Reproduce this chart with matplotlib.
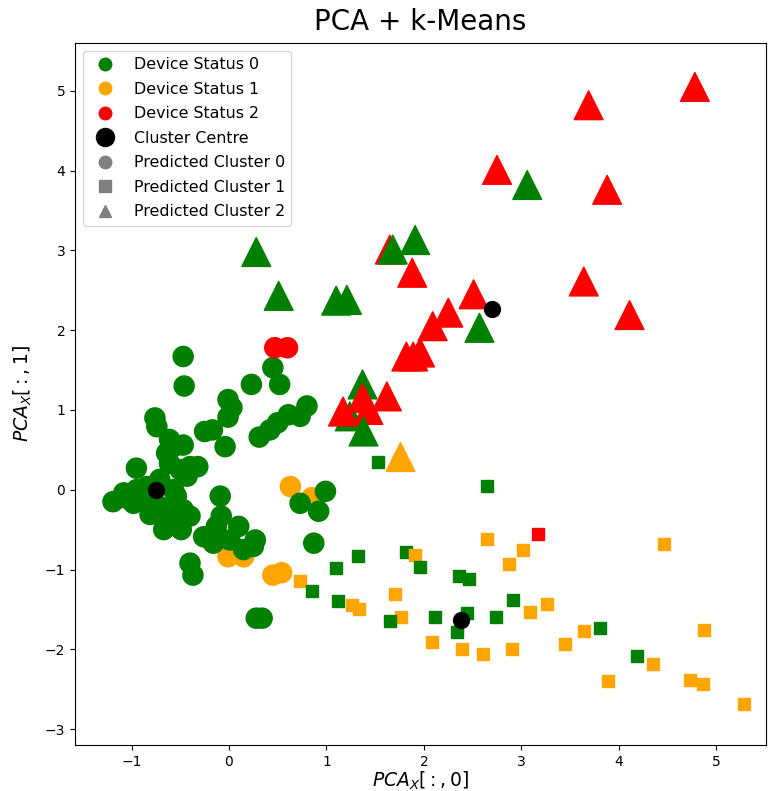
import matplotlib
matplotlib.use("Agg")
import matplotlib.pyplot as plt
from matplotlib.lines import Line2D

# colours for the device status labels
status_colors = ['green', 'orange', 'red']

# predicted cluster 0 (circles)
c0_x = [0.63, 0.85, -0.01, 0.15, 0.45, 0.54,
        -1.19, -1.08, -0.98, -0.95, -0.81, -0.71, -0.61, -0.54, -0.47, -0.40,
        -0.67, -0.49, -0.64, -0.57, -0.47, -0.61, -0.50, -0.40, -0.32, -0.71,
        -0.84, -0.95, -1.07, -0.78, -0.57, -0.43, -0.61,
        -0.47, -0.46, 0.45, 0.52, 0.23, -0.01, 0.03, -0.01, -0.76, -0.74,
        -0.25, -0.17, -0.04, 0.31, 0.42, 0.50, 0.61, 0.73, 0.80,
        -0.09, -0.08, -0.13, -0.26, 0.10, 0.01, 0.15, 0.27, 0.25, -0.16,
        -0.40, -0.37, 0.28, 0.34, 0.73, 0.99, 0.92, 0.87,
        0.47, 0.60]
c0_y = [0.04, -0.10, -0.84, -0.84, -1.07, -1.04,
        -0.15, -0.04, -0.17, 0.27, -0.31, -0.21, -0.33, -0.08, -0.25, -0.33,
        -0.50, -0.50, 0.46, 0.54, 0.56, 0.33, 0.25, 0.29, 0.29, 0.13,
        0.04, 0.00, -0.10, -0.13, 0.00, 0.17, 0.63,
        1.67, 1.30, 1.53, 1.32, 1.32, 1.13, 1.03, 0.91, 0.90, 0.79,
        0.73, 0.75, 0.54, 0.66, 0.75, 0.84, 0.94, 0.92, 1.05,
        -0.08, -0.33, -0.46, -0.59, -0.46, -0.63, -0.75, -0.63, -0.71, -0.67,
        -0.92, -1.07, -1.61, -1.61, -0.17, -0.02, -0.27, -0.67,
        1.78, 1.78]
c0_status = [1, 1, 1, 1, 1, 1,
             0, 0, 0, 0, 0, 0, 0, 0, 0, 0,
             0, 0, 0, 0, 0, 0, 0, 0, 0, 0,
             0, 0, 0, 0, 0, 0, 0,
             0, 0, 0, 0, 0, 0, 0, 0, 0, 0,
             0, 0, 0, 0, 0, 0, 0, 0, 0,
             0, 0, 0, 0, 0, 0, 0, 0, 0, 0,
             0, 0, 0, 0, 0, 0, 0, 0,
             2, 2]

# predicted cluster 1 (squares)
c1_x = [1.53, 2.65, 3.17, 2.65, 3.02, 2.87, 4.46, 1.82, 1.91, 1.96,
        2.36, 2.46, 1.70, 2.91, 3.26, 3.09, 1.76, 1.65, 2.11, 2.44,
        2.34, 2.74, 3.64, 3.81, 4.87, 2.08, 3.45, 2.39, 2.61, 2.90,
        4.19, 4.35, 3.89, 4.73, 4.86, 5.28,
        1.10, 1.32, 0.73, 0.85, 1.12, 1.26, 1.33]
c1_y = [0.35, 0.05, -0.55, -0.62, -0.76, -0.93, -0.68, -0.78, -0.82, -0.97,
        -1.08, -1.12, -1.31, -1.38, -1.43, -1.53, -1.60, -1.64, -1.59, -1.54,
        -1.78, -1.60, -1.77, -1.73, -1.76, -1.91, -1.93, -2.00, -2.06, -2.00,
        -2.08, -2.18, -2.40, -2.38, -2.43, -2.68,
        -0.98, -0.83, -1.14, -1.27, -1.40, -1.44, -1.49]
c1_status = [0, 0, 2, 1, 1, 1, 1, 0, 1, 0,
             0, 0, 1, 0, 1, 1, 1, 0, 0, 0,
             0, 0, 1, 0, 1, 1, 1, 1, 1, 1,
             0, 1, 1, 1, 1, 1,
             0, 0, 1, 0, 0, 1, 1]

# predicted cluster 2 (triangles)
c2_x = [4.78, 3.69, 2.75, 3.88, 3.64, 4.11, 1.65, 1.88,
        2.51, 2.25, 2.09, 1.82, 1.89, 1.96,
        3.06, 0.28, 0.51, 1.10, 1.21, 1.68, 1.91, 2.57,
        1.37, 1.24, 1.17, 1.37, 1.43, 1.62, 1.38, 1.76]
c2_y = [5.05, 4.82, 4.01, 3.76, 2.61, 2.19, 3.01, 2.72,
        2.45, 2.22, 2.05, 1.67, 1.67, 1.72,
        3.82, 2.98, 2.43, 2.37, 2.38, 3.01, 3.13, 2.03,
        1.32, 0.92, 0.98, 1.15, 1.00, 1.17, 0.73, 0.41]
c2_status = [2, 2, 2, 2, 2, 2, 2, 2,
             2, 2, 2, 2, 2, 2,
             0, 0, 0, 0, 0, 0, 0, 0,
             0, 0, 2, 2, 2, 2, 0, 1]

# k-means cluster centres
centre_x = [-0.75, 2.38, 2.70]
centre_y = [0.00, -1.63, 2.27]

fig = plt.figure(figsize=(7.68, 7.91), dpi=100)
ax = fig.add_axes([75 / 768, 46 / 791, 691 / 768, 702 / 791])

ax.scatter(c0_x, c0_y, c=[status_colors[s] for s in c0_status], marker='o', s=210)
ax.scatter(c1_x, c1_y, c=[status_colors[s] for s in c1_status], marker='s', s=75)
ax.scatter(c2_x, c2_y, c=[status_colors[s] for s in c2_status], marker='^', s=430)
ax.scatter(centre_x, centre_y, c='black', marker='o', s=130)

ax.set_xlim(-1.58, 5.51)
ax.set_ylim(-3.2, 5.6)
ax.set_title('PCA + k-Means', fontsize=20, pad=9)
ax.set_xlabel('$PCA_X[:,0]$', fontsize=13.5, labelpad=1)
ax.set_ylabel('$PCA_X[:,1]$', fontsize=13.5, labelpad=8)

handles = [
    Line2D([], [], marker='o', color='green', linestyle='none', markersize=9, label='Device Status 0'),
    Line2D([], [], marker='o', color='orange', linestyle='none', markersize=9, label='Device Status 1'),
    Line2D([], [], marker='o', color='red', linestyle='none', markersize=9, label='Device Status 2'),
    Line2D([], [], marker='o', color='black', linestyle='none', markersize=13, label='Cluster Centre'),
    Line2D([], [], marker='o', color='grey', linestyle='none', markersize=9, label='Predicted Cluster 0'),
    Line2D([], [], marker='s', color='grey', linestyle='none', markersize=9, label='Predicted Cluster 1'),
    Line2D([], [], marker='^', color='grey', linestyle='none', markersize=9, label='Predicted Cluster 2'),
]
ax.legend(handles=handles, loc='upper left', fontsize=11.4, labelspacing=0.6)

fig.savefig('out.png', dpi=100)
